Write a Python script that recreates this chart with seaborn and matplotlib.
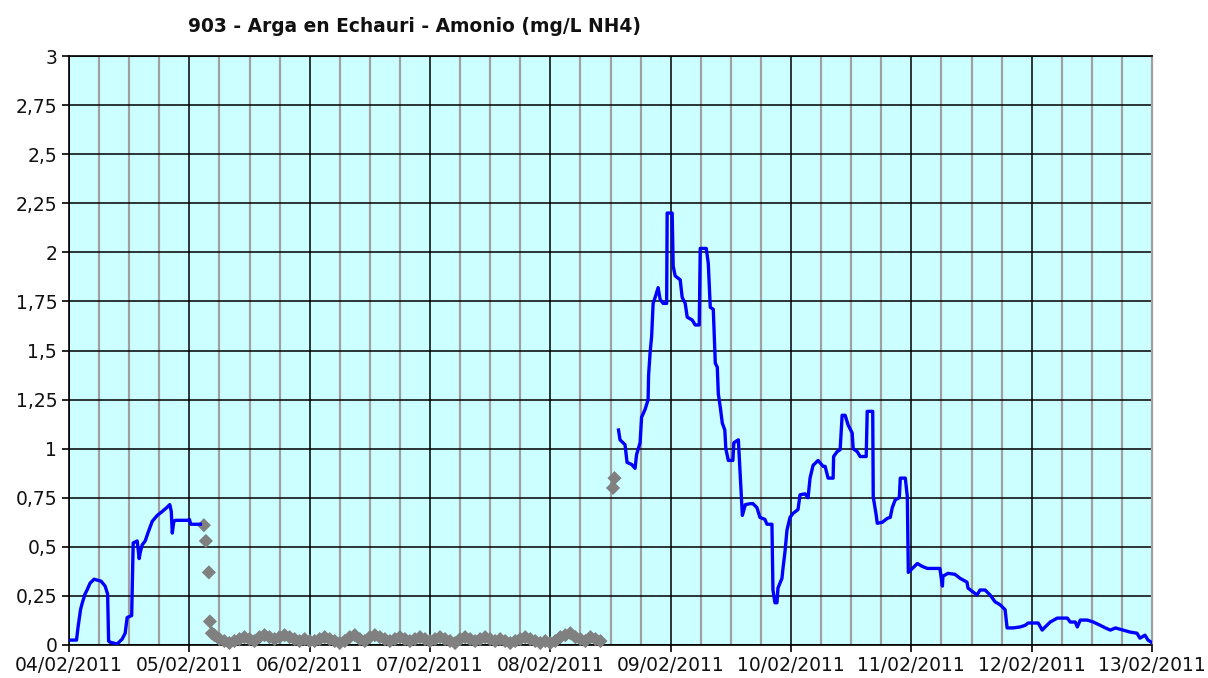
import pandas as pd
import numpy as np
import matplotlib
matplotlib.use("Agg")
import matplotlib.pyplot as plt
import matplotlib.dates as mdates
import seaborn as sns

# hours counted from 04/02/2011 00:00
start = pd.Timestamp("2011-02-04")

# first valid stretch (blue)
blue1_hours = [0.0, 1.5, 1.8, 2.3, 2.6, 3.2, 3.6, 4.2, 5.0, 6.4, 7.2, 7.7, 7.9, 8.1,
               9.6, 10.6, 11.2, 11.6, 12.5, 12.8, 13.6, 14.0, 14.2, 14.6, 15.2, 15.8,
               16.6, 17.6, 18.6, 19.5, 20.1, 20.4, 20.6, 20.9, 21.2, 23.7, 24.0, 24.3, 26.2]
blue1_vals = [0.025, 0.025, 0.09, 0.18, 0.21, 0.26, 0.28, 0.315, 0.335, 0.325, 0.30, 0.26,
              0.02, 0.015, 0.005, 0.03, 0.06, 0.14, 0.15, 0.52, 0.53, 0.44, 0.47, 0.51,
              0.53, 0.575, 0.63, 0.66, 0.68, 0.70, 0.715, 0.68, 0.57, 0.63, 0.635, 0.635,
              0.64, 0.615, 0.615]

# second valid stretch (blue)
blue2_hours = [109.6, 109.9, 110.9, 111.3, 112.2, 112.9, 113.2, 113.9, 114.2, 114.9,
               115.5, 115.6, 115.9, 116.2, 116.5, 116.9, 117.5, 117.9, 118.5, 119.2,
               119.3, 120.3, 120.5, 120.9, 121.9, 122.3, 122.9, 123.3, 124.3, 124.9,
               125.7, 125.9, 127.1, 127.5, 127.9, 128.5, 128.9, 129.3, 129.5, 129.9,
               130.3, 130.8, 131.0, 131.5, 132.4, 132.6, 133.5, 133.9, 134.3, 134.9,
               135.9, 136.4, 137.2, 137.8, 138.8, 139.2, 140.2, 140.4, 140.8, 141.2,
               141.4, 142.2, 142.4, 142.8, 143.2, 143.8, 144.4, 145.4, 145.8, 146.8,
               147.4, 147.8, 148.4, 149.4, 150.4, 150.8, 151.4, 152.4, 152.5, 153.2,
               153.8, 154.2, 154.8, 155.4, 156.2, 156.4, 157.2, 157.8, 159.0, 159.2,
               160.3, 160.4, 161.0, 161.2, 162.2, 163.2, 163.8, 164.2, 164.8, 165.6,
               165.8, 166.8, 167.2, 167.4, 168.2, 169.2, 170.2, 171.2, 173.7, 174.2,
               174.3, 175.3, 176.7, 177.7, 179.1, 179.3, 180.3, 181.1, 181.7, 182.7,
               183.7, 184.7, 185.7, 186.7, 187.1, 188.3, 189.7, 190.7, 191.3, 193.3,
               194.1, 194.7, 195.7, 197.1, 199.1, 199.7, 200.7, 201.1, 201.7, 203.1,
               204.3, 205.7, 206.7, 207.7, 208.7, 210.2, 211.6, 213.0, 213.6, 214.6,
               215.2, 215.8]
blue2_vals = [1.095, 1.045, 1.02, 0.93, 0.92, 0.90, 0.97, 1.03, 1.16, 1.20,
              1.25, 1.375, 1.49, 1.57, 1.74, 1.77, 1.82, 1.76, 1.74, 1.74,
              2.20, 2.20, 1.93, 1.88, 1.86, 1.77, 1.74, 1.67, 1.655, 1.63,
              1.63, 2.02, 2.02, 1.945, 1.72, 1.71, 1.435, 1.415, 1.28, 1.21,
              1.13, 1.095, 1.00, 0.94, 0.94, 1.03, 1.045, 0.85, 0.66, 0.715,
              0.72, 0.72, 0.70, 0.65, 0.64, 0.615, 0.615, 0.28, 0.215, 0.215,
              0.29, 0.34, 0.39, 0.475, 0.585, 0.65, 0.67, 0.69, 0.765, 0.77,
              0.75, 0.85, 0.915, 0.94, 0.91, 0.91, 0.85, 0.85, 0.96, 0.985,
              0.995, 1.17, 1.17, 1.12, 1.08, 1.00, 0.985, 0.96, 0.96, 1.19,
              1.19, 0.755, 0.66, 0.62, 0.625, 0.645, 0.65, 0.70, 0.74, 0.75,
              0.85, 0.85, 0.755, 0.37, 0.39, 0.415, 0.40, 0.39, 0.39, 0.30,
              0.35, 0.365, 0.36, 0.34, 0.32, 0.29, 0.27, 0.255, 0.28, 0.28,
              0.255, 0.22, 0.205, 0.18, 0.087, 0.087, 0.092, 0.10, 0.112, 0.112,
              0.076, 0.092, 0.117, 0.137, 0.137, 0.117, 0.117, 0.092, 0.127, 0.127,
              0.117, 0.10, 0.087, 0.076, 0.087, 0.076, 0.066, 0.06, 0.035, 0.05,
              0.025, 0.015]

# invalid readings (grey diamonds)
grey_hours = [26.9, 27.3, 27.9, 28.1, 28.5] + list(range(29, 107)) + [108.5, 108.8]
grey_vals = [0.61, 0.53, 0.37, 0.12, 0.06,
             0.05, 0.03, 0.02, 0.01, 0.02, 0.03, 0.04, 0.03, 0.02, 0.04,
             0.05, 0.04, 0.03, 0.04, 0.05, 0.04, 0.03, 0.02, 0.03, 0.02,
             0.02, 0.03, 0.04, 0.03, 0.02, 0.01, 0.02, 0.04, 0.05, 0.03,
             0.02, 0.04, 0.05, 0.04, 0.03, 0.02, 0.03, 0.04, 0.03, 0.02,
             0.03, 0.04, 0.03, 0.02, 0.03, 0.04, 0.03, 0.02, 0.01, 0.03,
             0.04, 0.03, 0.02, 0.03, 0.04, 0.03, 0.02, 0.03, 0.02, 0.01,
             0.02, 0.03, 0.04, 0.03, 0.02, 0.01, 0.02, 0.01, 0.02, 0.04,
             0.05, 0.06, 0.04, 0.03, 0.02, 0.04, 0.03, 0.02,
             0.80, 0.85]

y_ticks = [0, 0.25, 0.5, 0.75, 1, 1.25, 1.5, 1.75, 2, 2.25, 2.5, 2.75, 3]
y_labels = ["0", "0,25", "0,5", "0,75", "1", "1,25", "1,5", "1,75", "2", "2,25", "2,5", "2,75", "3"]


def to_df(hours, vals):
    return pd.DataFrame({"fecha": start + pd.to_timedelta(hours, unit="h"), "valor": vals})


b1 = to_df(blue1_hours, blue1_vals)
b2 = to_df(blue2_hours, blue2_vals)
gr = to_df(grey_hours, grey_vals)

fig = plt.figure(figsize=(12.08, 6.78), dpi=100)
ax = fig.add_axes([69 / 1208, 1 - 645 / 678, (1152 - 69) / 1208, (645 - 56) / 678])
ax.set_facecolor("#ccffff")

sns.scatterplot(data=gr, x="fecha", y="valor", marker="D", s=52, color="#808080",
                edgecolor="none", ax=ax, zorder=3, clip_on=False)
sns.lineplot(data=b1, x="fecha", y="valor", estimator=None, sort=False,
             color="#0000ff", lw=2.4, ax=ax, zorder=4)
sns.lineplot(data=b2, x="fecha", y="valor", estimator=None, sort=False,
             color="#0000ff", lw=2.4, ax=ax, zorder=4)

ax.set_xlim(start, start + pd.Timedelta(days=9))
ax.set_ylim(0, 3)
ax.set_yticks(y_ticks)
ax.set_yticklabels(y_labels)
ax.xaxis.set_major_locator(mdates.DayLocator())
ax.xaxis.set_major_formatter(mdates.DateFormatter("%d/%m/%Y"))
ax.xaxis.set_minor_locator(mdates.HourLocator(byhour=[6, 12, 18]))

ax.grid(which="major", color="black", lw=1.1, zorder=1)
ax.grid(which="minor", axis="x", color="#a0a0a0", lw=1.6, zorder=1)
ax.set_axisbelow(True)

ax.tick_params(axis="both", which="major", labelsize=13.5, length=5, width=1.2,
               color="black", labelcolor="#111111")
ax.tick_params(axis="x", which="minor", length=0)
ax.tick_params(axis="x", pad=3)
ax.set_xlabel("")
ax.set_ylabel("")

for side in ["left", "bottom", "top"]:
    ax.spines[side].set_color("black")
    ax.spines[side].set_linewidth(1.2)
ax.spines["right"].set_color("#a0a0a0")
ax.spines["right"].set_linewidth(1.6)

fig.text(415 / 1208, 1 - 27 / 678, "903 - Arga en Echauri - Amonio (mg/L NH4)",
         ha="center", va="center", fontsize=13.4, fontweight="bold", color="#111111")

fig.savefig("out.png", dpi=100)
